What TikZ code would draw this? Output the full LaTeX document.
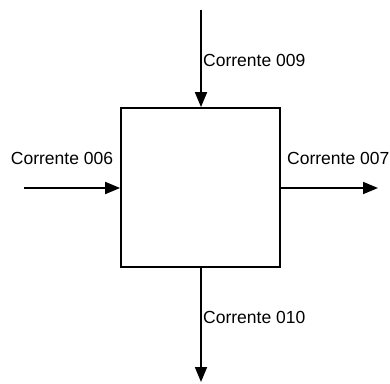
\documentclass[tikz,border=0pt]{standalone}
\usepackage{fontspec}
\setmainfont{Liberation Sans}
\usetikzlibrary{arrows.meta}
\begin{document}
\begin{tikzpicture}[x=1pt,y=1pt,
  flow/.style={line width=1.8pt,-{Triangle[length=15pt,width=12pt]}},
  lbl/.style={inner sep=0pt,font=\fontsize{17.5}{20}\selectfont},
  unit/.style={draw,line width=1.8pt,minimum width=159pt,minimum height=159pt,inner sep=0pt}]
\useasboundingbox (0,0) rectangle (390,-383);
\node[unit] (box) at (200.5,-187.5) {};
\coordinate (topin) at (201,-10);
\coordinate (leftin) at (24,-188);
\coordinate (rightout) at (378,-188);
\coordinate (botout) at (201,-382);
\draw[flow] (topin) -- (topin |- box.north);
\draw[flow] (leftin) -- (leftin -| box.west);
\draw[flow] (rightout -| box.east) -- (rightout);
\draw[flow] (botout |- box.south) -- (botout);
\node[lbl,anchor=west] (l009) at (203,-60) {Corrente 009};
\node[lbl] (l006) at (62,-158) {Corrente 006};
\node[lbl,anchor=west] (l007) at (287,-158) {Corrente 007};
\node[lbl,anchor=west] (l010) at (203,-317) {Corrente 010};
\end{tikzpicture}
\end{document}
